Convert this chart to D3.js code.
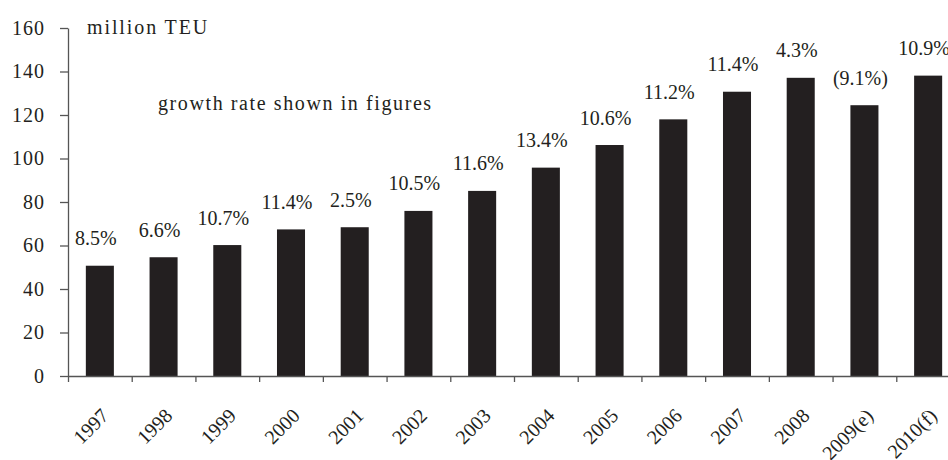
<!DOCTYPE html>
<html>
<head>
<meta charset="utf-8">
<script src="https://cdn.jsdelivr.net/npm/d3@7"></script>
<style>
  html, body { margin: 0; padding: 0; background: #fff; }
  svg { display: block; }
  text { font-family: "Liberation Serif", "Times New Roman", serif; fill: #231f20; }
</style>
</head>
<body>
<svg id="chart" width="948" height="460"></svg>
<script>
// World container port throughput, million TEU, with annual growth rates
const years = ["1997", "1998", "1999", "2000", "2001", "2002", "2003", "2004",
               "2005", "2006", "2007", "2008", "2009(e)", "2010(f)"];
const throughput = [50.7, 54.6, 60.2, 67.4, 68.4, 75.9, 85.1, 95.8,
                    106.2, 118.0, 130.7, 137.1, 124.5, 138.1];
const growthLabels = ["8.5%", "6.6%", "10.7%", "11.4%", "2.5%", "10.5%", "11.6%", "13.4%",
                      "10.6%", "11.2%", "11.4%", "4.3%", "(9.1%)", "10.9%"];
const yTicks = [0, 20, 40, 60, 80, 100, 120, 140, 160];
const unitLabel = "million TEU";
const noteLabel = "growth rate shown in figures";

const svg = d3.select("#chart");
const plotLeft = 68, plotRight = 960, plotTop = 28, plotBottom = 376;
const ink = "#231f20", axisInk = "#555";

const x = d3.scaleBand().domain(years).range([plotLeft, plotRight])
  .paddingInner(0.56).paddingOuter(0.28);
const y = d3.scaleLinear().domain([0, 160]).range([plotBottom, plotTop]);
// Category boundaries for the x-axis tick marks
const xEdge = d3.scaleLinear().domain([0, years.length]).range([plotLeft, plotRight]);

// Bars
svg.append("g").selectAll("rect").data(years).join("rect")
  .attr("x", d => x(d))
  .attr("y", (d, i) => y(throughput[i]))
  .attr("width", x.bandwidth())
  .attr("height", (d, i) => y(0) - y(throughput[i]))
  .attr("fill", ink);

// Growth-rate labels above bars
svg.append("g").selectAll("text").data(years).join("text")
  .attr("x", d => x(d) + x.bandwidth() / 2 - 4)
  .attr("y", (d, i) => y(throughput[i]) - 20.5)
  .attr("text-anchor", "middle")
  .style("font-size", "20px")
  .text((d, i) => growthLabels[i]);

// Y axis
const yAxis = svg.append("g").attr("transform", `translate(${plotLeft},0)`)
  .call(d3.axisLeft(y).tickValues(yTicks).tickSize(8).tickSizeOuter(0).tickPadding(15));
yAxis.select(".domain").attr("stroke", axisInk).attr("stroke-width", 1.3);
yAxis.selectAll(".tick line").attr("stroke", axisInk).attr("stroke-width", 1.3);
yAxis.selectAll(".tick text")
  .attr("fill", ink)
  .style("font-family", "'Liberation Serif', 'Times New Roman', serif")
  .style("font-size", "20px")
  .style("letter-spacing", "1px");

// X axis with ticks between categories
const xAxis = svg.append("g").attr("transform", `translate(0,${plotBottom})`)
  .call(d3.axisBottom(xEdge).tickValues(d3.range(0, years.length + 1))
    .tickSize(6).tickSizeOuter(0).tickFormat(""));
xAxis.select(".domain").attr("stroke", axisInk).attr("stroke-width", 1.3);
xAxis.selectAll(".tick line").attr("stroke", axisInk).attr("stroke-width", 1.3);

// Rotated year labels
svg.append("g").selectAll("text").data(years).join("text")
  .attr("transform", d => `translate(${x(d) + x.bandwidth() / 2 + 10},${plotBottom + 41}) rotate(-45)`)
  .attr("text-anchor", "end")
  .style("font-size", "20px")
  .text(d => d);

// Unit and note
svg.append("text").attr("x", 87).attr("y", 34)
  .style("font-size", "20px").style("letter-spacing", "1.9px").text(unitLabel);
svg.append("text").attr("x", 158).attr("y", 110)
  .style("font-size", "20px").style("letter-spacing", "1.6px").text(noteLabel);
</script>
</body>
</html>
